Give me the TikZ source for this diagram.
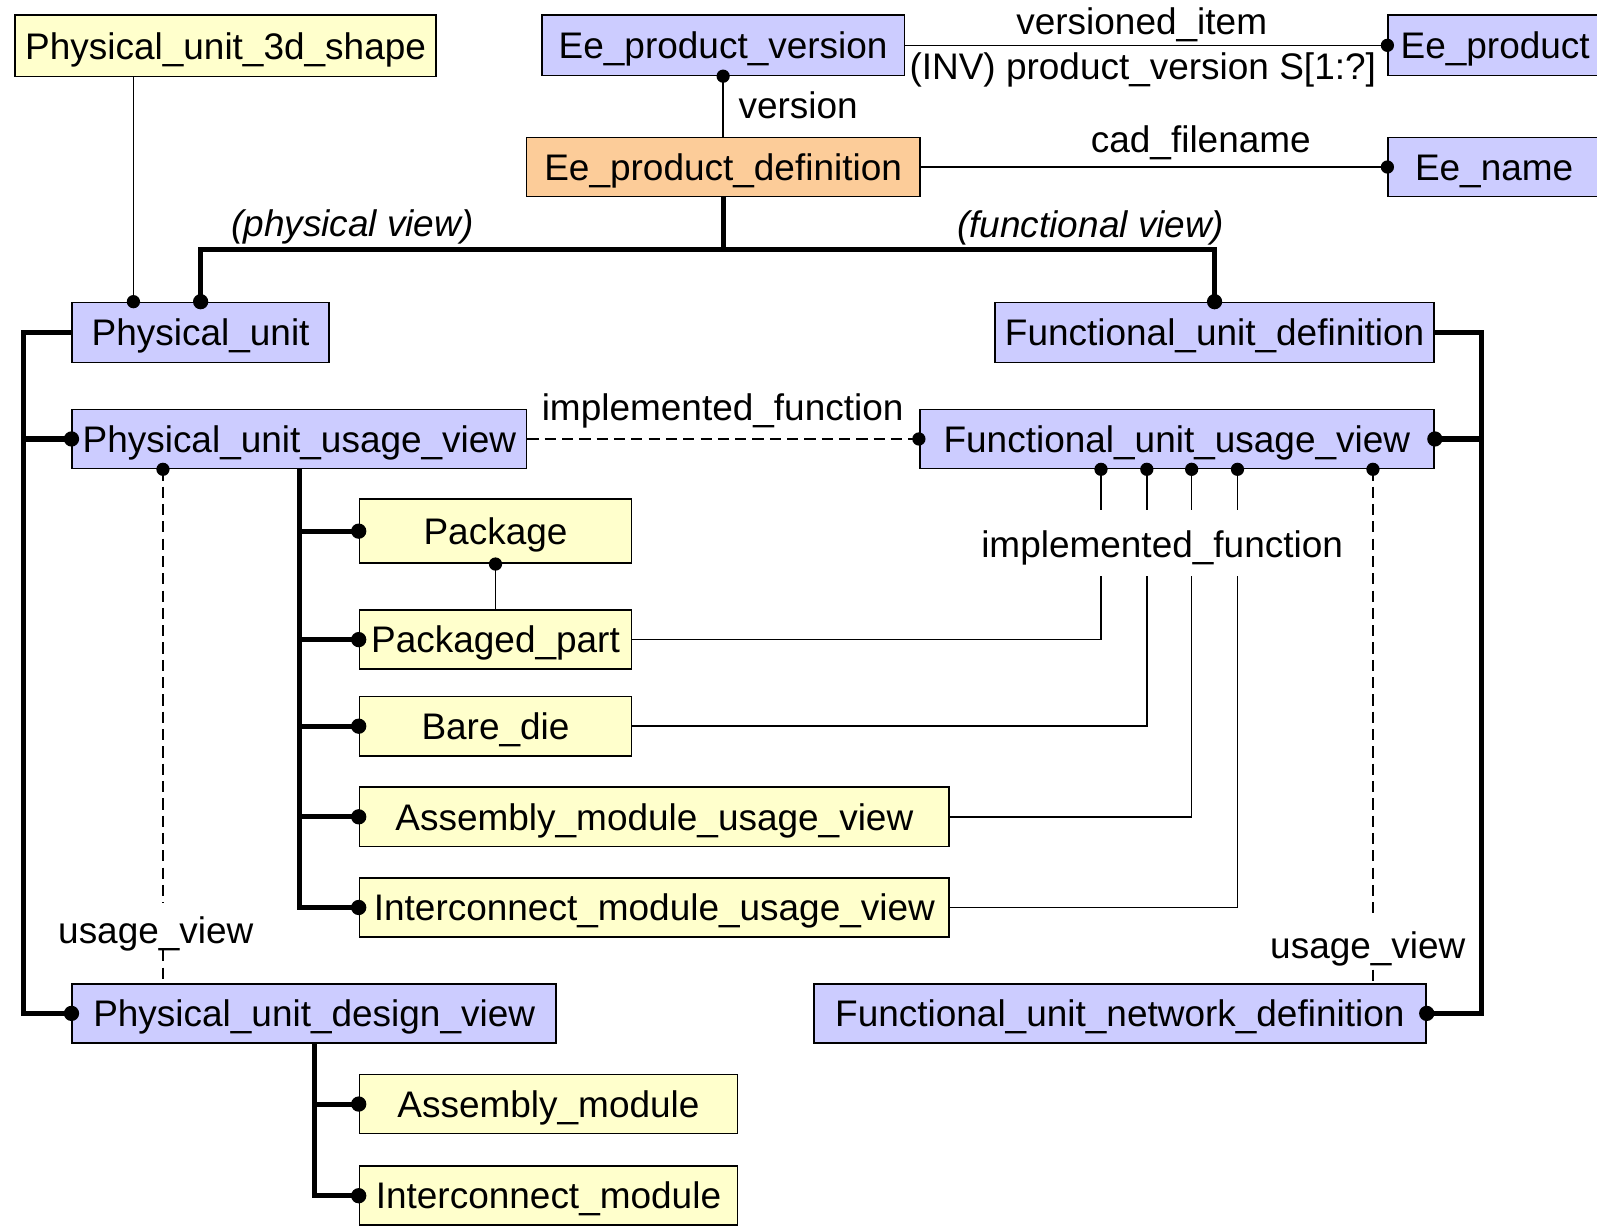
\documentclass[tikz,border=0pt]{standalone}
\usepackage{fontspec}
\setmainfont{Liberation Sans}
\definecolor{eblue}{RGB}{204,204,255}
\definecolor{eyel}{RGB}{255,255,204}
\definecolor{eorg}{RGB}{252,204,153}
\begin{document}
\begin{tikzpicture}[x=1pt,y=-1pt,
  every node/.style={font=\fontsize{36.3}{40}\selectfont},
  ent/.style={draw, line width=1.6pt, inner sep=0pt, text height=26pt, text depth=0pt},
  blu/.style={ent, fill=eblue},
  yel/.style={ent, fill=eyel},
  org/.style={ent, fill=eorg},
  thinl/.style={line width=1.6pt},
  thickl/.style={line width=5pt, line join=miter},
  dashl/.style={line width=1.5pt, dash pattern=on 11pt off 6pt},
  lbl/.style={inner sep=0pt, anchor=base},
  ilbl/.style={lbl, font=\fontsize{36.3}{40}\selectfont\itshape}]
\useasboundingbox (0,0) rectangle (1568,1209);
% entities
\node[yel, minimum width=413pt, minimum height=60pt] (P3d) at (221.5,45) {Physical\_unit\_3d\_shape};
\node[blu, minimum width=356pt, minimum height=59pt] (EPV) at (710,44.5) {Ee\_product\_version};
\node[blu, minimum width=210pt, minimum height=59pt] (EP) at (1468,44.5) {Ee\_product};
\node[org, minimum width=386pt, minimum height=58pt] (EPD) at (710,164) {Ee\_product\_definition};
\node[blu, minimum width=208pt, minimum height=58pt] (EN) at (1467,164) {Ee\_name};
\node[blu, minimum width=252pt, minimum height=59pt] (PU) at (197,326.5) {Physical\_unit};
\node[blu, minimum width=431pt, minimum height=59pt] (FUD) at (1192.5,326.5) {Functional\_unit\_definition};
\node[blu, minimum width=446pt, minimum height=58pt] (PUUV) at (294,431) {Physical\_unit\_usage\_view};
\node[blu, minimum width=505pt, minimum height=58pt] (FUUV) at (1155.5,431) {Functional\_unit\_usage\_view};
\node[yel, minimum width=267pt, minimum height=63pt] (PKG) at (486.5,521.5) {Package};
\node[yel, minimum width=267pt, minimum height=58pt] (PP) at (486.5,628) {Packaged\_part};
\node[yel, minimum width=267pt, minimum height=58pt] (BD) at (486.5,713) {Bare\_die};
\node[yel, minimum width=579pt, minimum height=58pt] (AMUV) at (642.5,802) {Assembly\_module\_usage\_view};
\node[yel, minimum width=579pt, minimum height=58pt] (IMUV) at (642.5,891) {Interconnect\_module\_usage\_view};
\node[blu, minimum width=475pt, minimum height=58pt] (PUDV) at (308.5,995) {Physical\_unit\_design\_view};
\node[blu, minimum width=601pt, minimum height=58pt] (FUND) at (1099.5,995) {Functional\_unit\_network\_definition};
\node[yel, minimum width=371pt, minimum height=58pt] (AM) at (538.5,1084) {Assembly\_module};
\node[yel, minimum width=371pt, minimum height=58pt] (IM) at (538.5,1174) {Interconnect\_module};
% helper coordinates
\coordinate (x131) at (131,0);
\coordinate (bus) at (710,245);
\coordinate (lb) at (23,0);
\coordinate (rb) at (1455,0);
\coordinate (f1) at (1081,0);
\coordinate (f2) at (1126,0);
\coordinate (f3) at (1170,0);
\coordinate (f4) at (1215,0);
\coordinate (f5) at (1348,0);
\coordinate (p5) at (160,0);
\coordinate (ytop) at (0,501);
\coordinate (ybot) at (0,566);
\coordinate (ru1) at (0,901);
\coordinate (ru2) at (0,952);
\coordinate (lu1) at (0,887);
\coordinate (lu2) at (0,933);
% thin relations
\draw[thinl] (EPV.east) -- (EP.west);
\fill (EP.west) circle (6.5);
\draw[thinl] (EPV.south) -- (EPD.north);
\fill (EPV.south) circle (6.5);
\draw[thinl] (EPD.east) -- (EN.west);
\fill (EN.west) circle (6.5);
\draw[thinl] (P3d.south -| x131) -- (PU.north -| x131);
\fill (PU.north -| x131) circle (6.5);
\draw[thinl] (PKG.south) -- (PP.north);
\fill (PKG.south) circle (6.5);
% main subtype bus
\draw[thickl] (EPD.south) -- (bus);
\draw[thickl] (PU.north) |- (bus) -| (FUD.north);
\fill (PU.north) circle (7.5);
\fill (FUD.north) circle (7.5);
% left bus
\draw[thickl] (PU.west) -| (lb |- PUDV.west) -- (PUDV.west);
\draw[thickl] (lb |- PUUV.west) -- (PUUV.west);
\fill (PUUV.west) circle (7.5);
\fill (PUDV.west) circle (7.5);
% right bus
\draw[thickl] (FUD.east) -| (rb |- FUND.east) -- (FUND.east);
\draw[thickl] (rb |- FUUV.east) -- (FUUV.east);
\fill (FUUV.east) circle (7.5);
\fill (FUND.east) circle (7.5);
% PUUV subtypes
\draw[thickl] (PUUV.south) |- (IMUV.west);
\draw[thickl] (PUUV.south |- PKG.west) -- (PKG.west);
\draw[thickl] (PUUV.south |- PP.west) -- (PP.west);
\draw[thickl] (PUUV.south |- BD.west) -- (BD.west);
\draw[thickl] (PUUV.south |- AMUV.west) -- (AMUV.west);
\foreach \n in {PKG,PP,BD,AMUV,IMUV} {\fill (\n.west) circle (7.5);}
% PUDV subtypes
\draw[thickl] (PUDV.south) |- (IM.west);
\draw[thickl] (PUDV.south |- AM.west) -- (AM.west);
\fill (AM.west) circle (7.5);
\fill (IM.west) circle (7.5);
% implemented_function (dashed)
\draw[dashl] (PUUV.east) -- (FUUV.west);
\fill (FUUV.west) circle (6.5);
\node[lbl] (lif1) at (709.5,413) {implemented\_function};
% implemented_function (four lines)
\foreach \f in {f1,f2,f3,f4} {
  \draw[thinl] (\f |- FUUV.south) -- (\f |- ytop);
  \fill (\f |- FUUV.south) circle (6.5);
}
\draw[thinl] (f1 |- ybot) |- (PP.east);
\draw[thinl] (f2 |- ybot) |- (BD.east);
\draw[thinl] (f3 |- ybot) |- (AMUV.east);
\draw[thinl] (f4 |- ybot) |- (IMUV.east);
\node[lbl] (lif2) at (1141,547) {implemented\_function};
% usage_view (right)
\draw[dashl] (f5 |- FUUV.south) -- (f5 |- ru1);
\draw[dashl] (f5 |- ru2) -- (f5 |- FUND.north);
\fill (f5 |- FUUV.south) circle (6.5);
\node[lbl] (luv2) at (1343,941.5) {usage\_view};
% usage_view (left)
\draw[dashl] (p5 |- PUUV.south) -- (p5 |- lu1);
\draw[dashl] (p5 |- lu2) -- (p5 |- PUDV.north);
\fill (p5 |- PUUV.south) circle (6.5);
\node[lbl] (luv1) at (153,926) {usage\_view};
% other labels
\node[lbl] (lvi) at (1121,33.7) {versioned\_item};
\node[lbl] (linv) at (1122,78) {(INV) product\_version S[1:?]};
\node[lbl, anchor=base west] (lver) at (725,116) {version};
\node[lbl] (lcad) at (1179,150) {cad\_filename};
\node[ilbl] (lpv) at (346,232) {(physical view)};
\node[ilbl] (lfv) at (1071,233) {(functional view)};
\end{tikzpicture}
\end{document}
